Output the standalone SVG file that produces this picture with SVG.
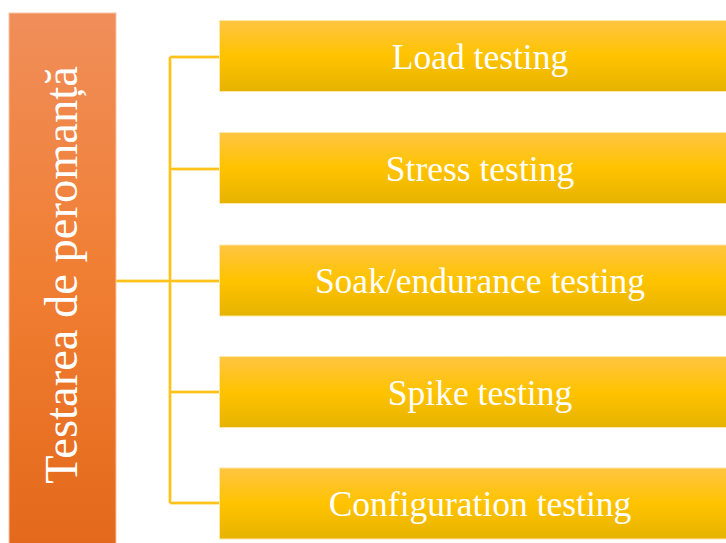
<svg xmlns="http://www.w3.org/2000/svg" width="726" height="543" viewBox="0 0 726 543">
  <defs>
    <linearGradient id="gOrange" x1="0" y1="0" x2="0" y2="1">
      <stop offset="0" stop-color="#F08E5A"/>
      <stop offset="0.5" stop-color="#F07E32"/>
      <stop offset="1" stop-color="#E3681B"/>
    </linearGradient>
    <linearGradient id="gYellow" x1="0" y1="0" x2="0" y2="1">
      <stop offset="0" stop-color="#FFC542"/>
      <stop offset="0.5" stop-color="#FFC300"/>
      <stop offset="1" stop-color="#E6B300"/>
    </linearGradient>
  </defs>
  <style>
    .box { fill: url(#gYellow); stroke: #FFE7A6; stroke-width: 1; }
    .lbl { font-family: "Liberation Serif", "Times New Roman", serif; font-size: 35.5px; fill: #FFFFFF; text-anchor: middle; }
    .glow { fill: none; stroke: #FFE9A8; stroke-width: 4; }
    .line { fill: none; stroke: #FFC21A; stroke-width: 2; }
  </style>
  <rect width="726" height="543" fill="#FFFFFF"/>

  <g id="connectors">
    <path class="glow" d="M116 281 H170 M170 57 V503 M170 57 H219 M170 169 H219 M170 281 H219 M170 392 H219 M170 503 H219"/>
    <path class="line" d="M116 281 H170 M170 57 V503 M170 57 H219 M170 169 H219 M170 281 H219 M170 392 H219 M170 503 H219"/>
  </g>

  <g id="root">
    <rect x="9" y="13" width="107" height="540" fill="url(#gOrange)" stroke="#F9C3A2" stroke-width="1"/>
    <text transform="translate(77 275) rotate(-90)" text-anchor="middle" font-family="'Liberation Serif', 'Times New Roman', serif" font-size="46.5" fill="#FFFFFF">Testarea de peromanță</text>
  </g>

  <g id="load">
    <rect class="box" x="219.5" y="20.5" width="530" height="71"/>
    <text class="lbl" x="480" y="68.5">Load testing</text>
  </g>
  <g id="stress">
    <rect class="box" x="219.5" y="132.5" width="530" height="71"/>
    <text class="lbl" x="480" y="180.5">Stress testing</text>
  </g>
  <g id="soak">
    <rect class="box" x="219.5" y="245" width="530" height="71"/>
    <text class="lbl" x="480" y="293">Soak/endurance testing</text>
  </g>
  <g id="spike">
    <rect class="box" x="219.5" y="356.5" width="530" height="71"/>
    <text class="lbl" x="480" y="404.5">Spike testing</text>
  </g>
  <g id="config">
    <rect class="box" x="219.5" y="468" width="530" height="71"/>
    <text class="lbl" x="480" y="516">Configuration testing</text>
  </g>
</svg>
